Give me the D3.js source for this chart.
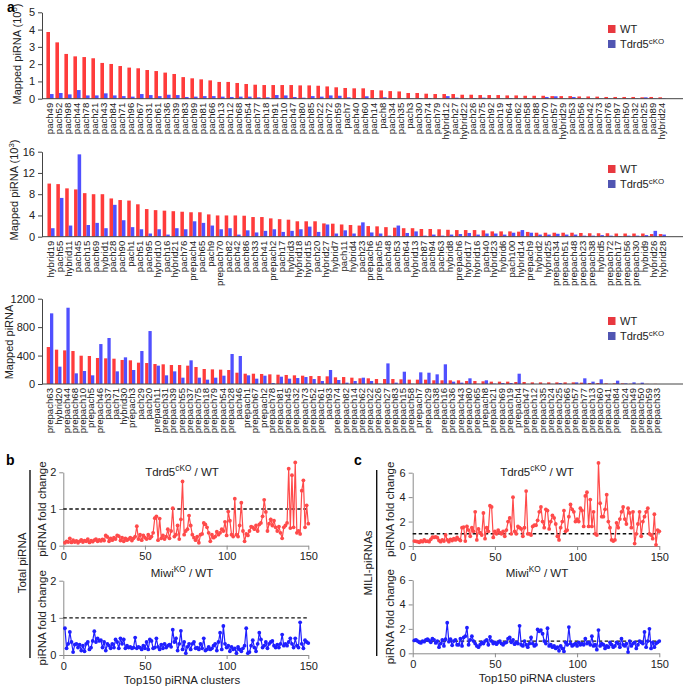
<!DOCTYPE html>
<html><head><meta charset="utf-8">
<script src="https://cdn.jsdelivr.net/npm/d3@7"></script>
<style>body{margin:0;background:#fff}svg{display:block;font-family:"Liberation Sans",Arial,Helvetica,sans-serif}</style>
</head><body><svg id="c" width="683" height="686"></svg>
<script>
// ---------- Panel a: data ----------
const topCats = ["pach49","pach52","pach98","pach44","pach78","pach21","pach43","pach84","pach71","pach96","pach67","pach31","pach61","pach36","pach39","pach83","pach99","pach81","pach66","pach13","pach12","pach68","pach54","pach77","pach18","pach91","pach10","pach47","pach80","pach85","pach22","pach72","pach59","pach7","pach40","pach60","pach14","pach8","pach34","pach35","pach3","pach30","pach74","pach79","hybrid12","pach27","hybrid22","pach26","pach75","pach92","pach19","pach64","pach62","pach58","pach88","pach70","pach57","hybrid29","pach53","pach56","pach42","pach73","pach76","pach97","pach50","pach32","pach25","pach89","hybrid24"];
const topWT = [3.86,3.26,2.59,2.45,2.41,2.34,2.07,2.01,1.89,1.80,1.76,1.66,1.60,1.51,1.43,1.25,1.18,1.12,1.06,0.97,0.97,0.91,0.85,0.81,0.79,0.79,0.79,0.79,0.77,0.77,0.75,0.71,0.66,0.62,0.60,0.60,0.50,0.48,0.44,0.42,0.33,0.33,0.29,0.27,0.27,0.27,0.23,0.23,0.21,0.21,0.21,0.19,0.19,0.17,0.17,0.17,0.15,0.15,0.15,0.13,0.13,0.12,0.10,0.10,0.10,0.10,0.08,0.10,0.08];
const topKO = [0.27,0.33,0.25,0.50,0.19,0.19,0.31,0.19,0.15,0.12,0.27,0.21,0.15,0.23,0.21,0.10,0.12,0.15,0.15,0.12,0.10,0.12,0.12,0.08,0.08,0.21,0.19,0.10,0.06,0.15,0.12,0.19,0.17,0.08,0.04,0.14,0.04,0.08,0.04,0.02,0.02,0.04,0.04,0.02,0.15,0.06,0.02,0.04,0.06,0.02,0.02,0.04,0.02,0.02,0.02,0.10,0.14,0.02,0.10,0.02,0.02,0.02,0.02,0.02,0.02,0.02,0.08,0.02,0.02];

const midCats = ["hybrid19","pach55","hybrid11","pach45","pach15","pach69","hybrid1","pach28","pach90","pach1","pach51","pach95","hybrid10","pach16","hybrid21","pach76","prepach4","pach65","pach9","prepach70","pach82","pach42","pach86","pach33","pach41","prepach2","pach17","hybrid3","hybrid18","hybrid15","pach20","hybrid27","hybrid7","pach11","hybrid4","pach23","prepach6","prepach5","pach48","pach53","pach64","hybrid13","pach87","pach94","pach63","hybrid8","prepach6","hybrid17","hybrid16","pach40","hybrid23","hybrid6","pach100","hybrid14","prepach9","hybrid2","hybrid25","prepach34","prepach51","prepach48","prepach23","prepach38","hybrid5","prepach72","prepach17","prepach56","prepach30","hybrid9","hybrid26","hybrid28"];
const midWT = [10.0,9.9,9.1,8.9,8.2,8.0,8.0,7.2,6.9,6.8,6.1,5.2,5.0,4.9,4.8,4.7,4.6,4.6,4.2,4.0,4.0,4.0,3.95,3.7,3.7,3.45,3.3,3.2,2.9,2.9,2.9,2.5,2.45,2.3,2.2,2.1,2.0,1.95,1.8,1.7,1.6,1.6,1.45,1.45,1.4,1.3,1.25,1.25,1.25,1.2,1.0,1.0,1.0,0.95,0.9,0.75,0.75,0.75,0.75,0.75,0.7,0.65,0.65,0.65,0.6,0.6,0.6,0.6,0.5,0.5];
const midKO = [1.6,7.3,2.1,15.5,2.2,2.6,1.6,6.0,3.1,1.8,1.4,0.6,1.4,0.4,1.6,1.4,2.9,2.6,2.1,1.4,1.6,0.4,1.2,0.8,1.1,1.4,0.9,1.1,1.4,1.9,0.9,2.3,0.6,1.2,0.6,2.7,0.8,0.6,0.2,2.1,0.7,1.0,0.2,0.4,0.2,0.4,0.5,0.7,0.4,0.6,0.6,0.4,0.75,1.25,0.75,0.4,0.4,0.55,0.4,0.4,0.2,0.2,0.3,0.2,0.1,0.2,0.2,0.3,1.1,0.4];

const botCats = ["prepach63","hybrid20","prepach44","prepach68","prepach10","prepach5","prepach46","pach37","pach71","hybrid30","prepach3","pach29","pach20","prepach11","prepach31","prepach39","prepach55","prepach37","prepach75","prepach18","prepach79","prepach54","prepach28","pach46","prepach1","prepach67","prepach2","prepach78","prepach81","prepach45","prepach32","prepach73","prepach52","prepach61","pach93","prepach74","prepach82","prepach14","prepach62","prepach22","prepach26","prepach27","prepach83","prepach15","prepach58","prepach7","prepach29","pach38","prepach16","prepach36","prepach43","prepach80","prepach65","prepach8","prepach21","prepach69","prepach19","prepach4","prepach47","prepach12","prepach35","prepach24","prepach25","prepach66","prepach57","prepach77","prepach13","prepach60","prepach41","prepach84","pach24","prepach49","prepach50","prepach59","prepach33"];
const botWT = [520,483,473,464,398,394,366,361,356,338,333,300,295,281,277,267,267,258,239,211,206,202,197,159,145,145,141,136,131,127,122,117,112,112,108,94,98,89,80,80,70,70,70,66,61,61,61,52,52,52,52,42,42,38,33,33,33,28,28,23,23,23,23,23,23,19,14,14,9,9,9,4,3,2,2];
const botKO = [994,244,1073,150,183,122,562,647,178,375,197,464,745,258,122,178,89,333,89,61,89,117,422,394,122,75,117,14,103,75,84,98,70,42,197,56,19,42,89,42,5,290,19,173,5,164,159,136,277,33,19,80,3,52,5,14,14,145,2,2,2,2,14,2,23,80,33,66,2,47,9,23,19,0,0];

// ---------- Panels b, c: fold change, Top150 clusters (index 1..150) ----------
const clusterIdx = d3.range(1, 151);
const bTdrd5 = [0.08,0.12,0.10,0.20,0.09,0.15,0.10,0.13,0.08,0.12,
0.16,0.10,0.14,0.12,0.18,0.09,0.14,0.11,0.15,0.18,
0.12,0.16,0.13,0.17,0.14,0.28,0.24,0.12,0.20,0.15,
0.22,0.18,0.28,0.26,0.14,0.22,0.12,0.20,0.15,0.18,
0.22,0.14,0.20,0.25,0.53,0.18,0.30,0.15,0.28,0.22,
0.18,0.30,0.20,0.25,0.35,0.75,0.80,0.15,0.74,0.20,
0.28,0.18,0.25,0.45,0.20,0.40,1.02,0.25,0.30,0.55,
0.18,0.72,1.75,0.30,0.40,0.45,0.82,0.55,0.30,0.22,
0.15,0.25,0.08,0.30,0.32,0.62,0.58,0.50,0.35,0.12,
0.30,0.22,0.25,0.38,0.30,0.35,0.45,0.40,0.65,0.28,
0.93,0.68,0.30,0.25,1.28,0.30,0.25,0.55,1.17,0.40,
0.12,0.32,0.28,0.40,0.52,0.50,0.45,0.55,0.40,0.58,
0.62,0.80,1.25,0.92,0.40,0.60,0.72,0.55,0.68,0.50,
0.40,0.52,0.35,0.20,0.50,0.55,0.62,2.10,0.48,1.92,
0.50,2.27,0.35,0.40,0.32,1.50,1.78,0.50,1.10,0.60];
const bMiwi = [0.72,0.18,0.30,0.62,0.35,0.08,0.28,0.30,0.20,0.28,
0.12,0.25,0.10,0.30,0.35,0.15,0.20,0.38,0.64,0.35,
0.45,0.38,0.40,0.20,0.35,0.12,0.30,0.25,0.18,0.30,
0.20,0.42,0.35,0.18,0.45,0.30,0.42,0.18,0.25,0.20,
0.22,0.18,0.20,0.47,0.18,0.22,0.20,0.15,0.25,0.18,
0.35,0.15,0.42,0.38,0.18,0.20,0.45,0.22,0.15,0.28,
0.18,0.30,0.20,0.25,0.28,0.22,0.68,0.35,0.45,0.12,
0.30,0.65,0.15,0.35,0.05,0.22,0.30,0.15,0.30,0.35,
0.18,0.20,0.15,0.30,0.18,0.45,0.12,0.15,0.22,0.15,
0.18,0.25,0.30,0.12,0.35,0.60,0.15,0.78,0.30,0.20,
0.25,0.10,0.22,0.15,0.18,0.05,0.22,0.15,0.10,0.18,
0.25,0.72,0.05,0.08,0.25,0.40,0.20,0.10,0.30,0.60,
0.42,0.20,0.25,0.35,0.18,0.30,0.35,0.38,0.25,0.20,
0.28,0.20,0.30,0.55,0.25,0.30,0.25,0.35,0.45,0.30,
0.20,0.45,0.25,0.20,0.88,0.30,0.18,0.40,0.35,0.32];
const cTdrd5 = [0.40,0.38,0.35,0.30,0.42,0.35,0.50,0.38,0.40,0.35,
0.55,0.72,0.70,0.75,0.68,0.45,0.35,0.50,0.40,0.90,
0.50,0.35,0.55,0.45,0.60,0.50,0.70,0.55,0.45,1.50,
1.55,0.40,1.60,1.30,0.80,1.50,1.20,2.80,0.50,1.40,
1.10,0.90,2.70,0.60,1.50,1.20,3.30,3.20,0.70,1.20,
1.00,1.30,1.10,1.00,1.20,0.80,1.30,2.00,2.30,1.00,
4.00,1.20,1.00,1.60,1.50,1.40,0.80,1.50,4.50,1.00,
1.00,0.90,1.60,1.70,1.70,2.10,2.80,3.20,2.00,1.50,
3.00,2.90,1.40,2.00,2.50,2.30,1.80,0.80,0.50,1.50,
2.00,2.90,1.20,1.30,2.40,3.40,3.00,2.80,2.00,2.20,
2.00,3.10,2.90,1.60,4.10,4.40,1.60,3.80,1.60,2.80,
1.00,0.90,6.80,3.50,2.40,2.40,3.00,4.20,2.00,1.50,
0.50,0.40,0.50,1.90,1.50,2.20,2.80,3.20,2.20,1.80,
3.10,2.70,1.50,2.80,0.20,1.00,1.80,2.80,0.80,2.00,
2.40,2.80,3.10,1.00,0.90,0.60,2.60,0.10,1.30,1.20];
const cMiwi = [1.05,1.10,1.00,0.90,0.85,1.00,0.95,1.10,1.15,1.05,
0.90,1.20,1.10,0.85,1.00,0.50,0.80,1.10,0.60,1.15,
2.50,0.95,1.15,0.65,1.00,1.10,0.70,0.70,1.20,0.60,
1.30,1.40,2.10,0.70,1.10,1.40,1.00,0.80,0.60,0.50,
0.70,0.90,0.80,1.00,1.10,0.70,1.35,1.00,0.80,0.90,
0.75,0.90,1.00,0.80,0.70,0.85,0.90,1.20,1.30,0.90,
1.10,0.75,0.90,0.80,2.25,0.70,0.60,1.00,0.70,0.50,
0.80,1.30,0.80,0.60,0.70,1.95,1.80,1.90,1.60,1.00,
0.80,2.05,0.60,0.70,0.50,0.60,0.40,0.50,0.20,0.60,
0.40,0.15,0.90,0.70,2.15,0.80,0.60,0.70,0.80,0.60,
0.90,0.70,0.80,0.70,1.20,0.80,0.90,0.70,1.40,0.60,
0.70,0.30,1.90,0.60,0.80,0.70,0.40,0.60,0.50,0.90,
0.70,0.50,0.60,0.90,0.80,0.50,1.20,0.70,0.60,0.80,
0.10,1.00,0.60,0.80,0.90,0.40,0.70,1.00,0.90,0.80,
1.75,0.50,1.00,2.00,0.40,0.90,0.50,0.80,0.90,1.00];

// ---------- styles ----------
const RED = "#ff3b3b", BLUE = "#5050ff", LRED = "#e8383f", LBLUE = "#5055b2";
const LINE_RED = "#ff4a4a", LINE_BLUE = "#1f1fff";
const svg = d3.select("#c");
const intFmt = d3.format("d");

function richText(sel, parts, size) {
  parts.forEach(p => {
    if (p.sup) sel.append("tspan").attr("dy", -size*0.4).attr("font-size", size*0.72).text(p.t);
    else if (p.after) sel.append("tspan").attr("dy", size*0.4).text(p.t);
    else sel.append("tspan").text(p.t);
  });
  return sel;
}

function barChart(o) {
  const x = d3.scaleBand().domain(d3.range(o.cats.length)).range(o.xr).paddingInner(0.2).paddingOuter(0.1);
  const xs = d3.scaleBand().domain([0,1]).range([0, x.bandwidth()]);
  const y = d3.scaleLinear().domain(o.yd).range(o.yr);
  const g = svg.append("g");
  g.selectAll(".wt").data(o.wt).join("rect")
    .attr("x", (d,i) => x(i) + xs(0)).attr("width", xs.bandwidth())
    .attr("y", d => y(d)).attr("height", d => y(0) - y(d)).attr("fill", RED);
  g.selectAll(".ko").data(o.ko).join("rect")
    .attr("x", (d,i) => x(i) + xs(1)).attr("width", xs.bandwidth())
    .attr("y", d => y(d)).attr("height", d => y(0) - y(d)).attr("fill", BLUE);
  const ya = g.append("g").attr("transform", `translate(${o.axisX},0)`)
    .call(d3.axisLeft(y).tickValues(o.yt).tickFormat(intFmt).tickSize(4).tickSizeOuter(0));
  ya.selectAll("path,line").attr("stroke", "#444");
  ya.selectAll("text").attr("font-size", 11).attr("fill", "#222").attr("font-family", "Liberation Sans, Arial");
  const xa = g.append("g").attr("transform", `translate(0,${y(0)})`)
    .call(d3.axisBottom(x).tickSize(0).tickFormat(i => o.cats[i]));
  xa.select(".domain").remove();
  xa.selectAll("text").attr("transform", "rotate(-90)").attr("text-anchor", "end")
    .attr("x", -4).attr("y", 0).attr("dy", "0.35em").attr("font-size", 9.6).attr("fill", "#222")
    .attr("font-family", "Liberation Sans, Arial");
  g.append("line").attr("x1", o.axisX).attr("x2", 683).attr("y1", y(0)).attr("y2", y(0)).attr("stroke", "#444");
  const t = g.append("text").attr("transform", `translate(${o.ylx},${o.yly}) rotate(-90)`)
    .attr("text-anchor", "middle").attr("font-size", 11).attr("fill", "#222");
  richText(t, o.ylab, 11);
  const lg = g.append("g").attr("transform", `translate(608,${o.legY})`);
  lg.append("rect").attr("x", 0).attr("y", 0).attr("width", 7.5).attr("height", 8).attr("fill", LRED);
  lg.append("rect").attr("x", 0).attr("y", 15).attr("width", 7.5).attr("height", 8).attr("fill", LBLUE);
  lg.append("text").attr("x", 12).attr("y", 8).attr("font-size", 11).attr("fill", "#222").text("WT");
  richText(lg.append("text").attr("x", 12).attr("y", 23).attr("font-size", 11).attr("fill", "#222"),
    [{t:"Tdrd5"},{t:"cKO",sup:true}], 11);
}

barChart({cats: topCats, wt: topWT, ko: topKO, xr: [45.5, 666.5], yd: [0,5], yr: [98.7, 12.3], yt: [0,1,2,3,4,5],
  axisX: 42, ylx: 21, yly: 54, ylab: [{t:"Mapped piRNA (10"},{t:"5",sup:true},{t:")",after:true}], legY: 25});
barChart({cats: midCats, wt: midWT, ko: midKO, xr: [46.6, 666.8], yd: [0,16], yr: [236.7, 151.7], yt: [0,4,8,12,16],
  axisX: 42, ylx: 18, yly: 190, ylab: [{t:"Mapped piRNA (10"},{t:"3",sup:true},{t:")",after:true}], legY: 165});
barChart({cats: botCats, wt: botWT, ko: botKO, xr: [45.9, 661.1], yd: [0,1200], yr: [384, 298.7], yt: [0,400,800,1200],
  axisX: 42, ylx: 13, yly: 342, ylab: [{t:"Mapped piRNA"}], legY: 317});

svg.append("text").attr("x", 7).attr("y", 12).attr("font-size", 14).attr("font-weight", "bold").text("a");

// ---------- line panels ----------
function linePlot(o) {
  const x = d3.scaleLinear().domain([0,150]).range(o.xr);
  const y = d3.scaleLinear().domain(o.yd).range(o.yr);
  const g = svg.append("g");
  const ya = g.append("g").attr("transform", `translate(${o.xr[0]},0)`)
    .call(d3.axisLeft(y).tickValues(o.yt).tickFormat(intFmt).tickSize(4).tickSizeOuter(0));
  const xa = g.append("g").attr("transform", `translate(0,${o.yr[0]})`)
    .call(d3.axisBottom(x).tickValues([0,50,100,150]).tickFormat(intFmt).tickSize(4).tickSizeOuter(0));
  [ya, xa].forEach(a => {
    a.selectAll("path,line").attr("stroke", "#8a8a8a");
    a.selectAll("text").attr("font-size", 11).attr("fill", "#222").attr("font-family", "Liberation Sans, Arial");
  });
  g.append("line").attr("x1", x(0)).attr("x2", x(150)).attr("y1", y(1)).attr("y2", y(1))
    .attr("stroke", "#111").attr("stroke-width", 1.4).attr("stroke-dasharray", "3.5,2.5");
  const line = d3.line().x((d,i) => x(clusterIdx[i])).y(d => y(d));
  g.append("path").datum(o.vals).attr("d", line).attr("fill", "none").attr("stroke", o.color).attr("stroke-width", 1.2);
  g.selectAll(".pt").data(o.vals).join("circle").attr("cx", (d,i) => x(clusterIdx[i])).attr("cy", d => y(d))
    .attr("r", 1.9).attr("fill", o.color);
  const t = g.append("text").attr("x", o.tx).attr("y", o.ty).attr("text-anchor", "middle").attr("font-size", 11.5).attr("fill", "#222");
  richText(t, o.title, 11.5);
  g.append("text").attr("transform", `translate(${o.ylx},${(o.yr[0]+o.yr[1])/2}) rotate(-90)`)
    .attr("text-anchor", "middle").attr("dy", "0.35em").attr("font-size", 11.5).attr("fill", "#222").text("piRNA fold change");
  if (o.xlab) g.append("text").attr("x", o.tx).attr("y", o.xly).attr("text-anchor", "middle").attr("font-size", 11.5)
    .attr("fill", "#222").text("Top150 piRNA clusters");
}

linePlot({vals: bTdrd5, color: LINE_RED, xr: [63.3, 308.3], yd: [0,2], yr: [545.7, 472.3], yt: [0,1,2],
  tx: 182, ty: 476, title: [{t:"Tdrd5"},{t:"cKO",sup:true},{t:" / WT",after:true}], ylx: 42});
linePlot({vals: bMiwi, color: LINE_BLUE, xr: [63.3, 308.3], yd: [0,2], yr: [655, 580.7], yt: [0,1,2],
  tx: 182, ty: 577, title: [{t:"Miwi"},{t:"KO",sup:true},{t:" / WT",after:true}], ylx: 42, xlab: true, xly: 684});
linePlot({vals: cTdrd5, color: LINE_RED, xr: [412.7, 659.3], yd: [0,6], yr: [546, 472.7], yt: [0,2,4,6],
  tx: 537, ty: 476, title: [{t:"Tdrd5"},{t:"cKO",sup:true},{t:" / WT",after:true}], ylx: 390});
linePlot({vals: cMiwi, color: LINE_BLUE, xr: [412.7, 659.3], yd: [0,6], yr: [653.3, 580], yt: [0,2,4,6],
  tx: 537, ty: 577, title: [{t:"Miwi"},{t:"KO",sup:true},{t:" / WT",after:true}], ylx: 390, xlab: true, xly: 682});

svg.append("text").attr("x", 6).attr("y", 465).attr("font-size", 14).attr("font-weight", "bold").text("b");
svg.append("text").attr("x", 354).attr("y", 465).attr("font-size", 14).attr("font-weight", "bold").text("c");
svg.append("line").attr("x1", 30).attr("x2", 30).attr("y1", 470).attr("y2", 658).attr("stroke", "#111").attr("stroke-width", 1.4);
svg.append("line").attr("x1", 376.7).attr("x2", 376.7).attr("y1", 470).attr("y2", 656).attr("stroke", "#111").attr("stroke-width", 1.4);
svg.append("text").attr("transform", "translate(22,563) rotate(-90)").attr("text-anchor", "middle").attr("dy", "0.35em")
  .attr("font-size", 11.5).attr("fill", "#222").text("Total piRNA");
svg.append("text").attr("transform", "translate(368,563) rotate(-90)").attr("text-anchor", "middle").attr("dy", "0.35em")
  .attr("font-size", 11.5).attr("fill", "#222").text("MILI-piRNAs");
</script></body></html>
